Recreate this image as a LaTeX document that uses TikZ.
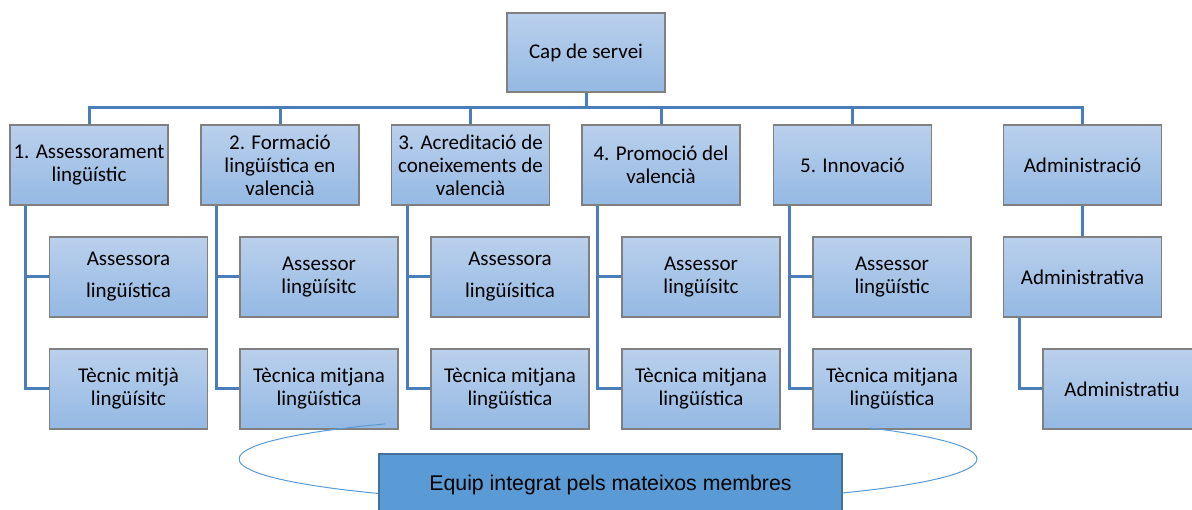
\documentclass[tikz,border=0pt]{standalone}
\usepackage{fontspec}
\setmainfont{Carlito}
\newfontfamily\arialf{Liberation Sans}
\usetikzlibrary{calc}
\definecolor{boxtop}{RGB}{186,208,236}
\definecolor{boxbot}{RGB}{148,185,227}
\definecolor{boxline}{RGB}{128,128,128}
\definecolor{connc}{RGB}{74,126,187}
\definecolor{eqfill}{RGB}{91,155,213}
\definecolor{eqline}{RGB}{65,113,156}
\tikzset{
  orgbox/.style={rectangle, draw=boxline, line width=1.2pt, top color=boxtop, bottom color=boxbot,
    minimum width=158pt, minimum height=80pt, inner sep=0pt, align=center,
    font=\fontsize{21}{23}\selectfont},
  conn/.style={draw=connc, line width=3pt},
  ell/.style={draw=eqfill, line width=1pt},
  eqbox/.style={rectangle, draw=eqline, line width=1.5pt, fill=eqfill, minimum width=463pt,
    minimum height=62pt, inner sep=0pt, font=\arialf\fontsize{21.3}{23}\selectfont}
}
\begin{document}
\begin{tikzpicture}[x=1pt,y=-1pt]
\useasboundingbox (0,0) rectangle (1192,510);
\clip (0,0) rectangle (1192,510);
\coordinate (bus) at (0,108);
% top
\node[orgbox, minimum height=79pt] (cap) at (586,52.5) {Cap de servei};
\node[orgbox] (d1) at (89,165) {1. Assessorament\\ lingüístic};
\node[orgbox] (d2) at (280,165) {2. Formació\\ lingüística en\\ valencià};
\node[orgbox] (d3) at (470.5,165) {3. Acreditació de\\ coneixements de\\ valencià};
\node[orgbox] (d4) at (661,165) {4. Promoció del\\ valencià};
\node[orgbox] (d5) at (852.5,165) {5. Innovació};
\node[orgbox] (adm) at (1082.5,165) {Administració};
% children
\node[orgbox] (c1a) at (128.5,277) {Assessora\\[9pt] lingüística};
\node[orgbox] (c1b) at (128.5,389) {Tècnic mitjà\\ lingüísitc};
\node[orgbox] (c2a) at (319,277) {Assessor\\ lingüísitc};
\node[orgbox] (c2b) at (319,389) {Tècnica mitjana\\ lingüística};
\node[orgbox] (c3a) at (510,277) {Assessora\\[9pt] lingüísitica};
\node[orgbox] (c3b) at (510,389) {Tècnica mitjana\\ lingüística};
\node[orgbox] (c4a) at (701,277) {Assessor\\ lingüísitc};
\node[orgbox] (c4b) at (701,389) {Tècnica mitjana\\ lingüística};
\node[orgbox] (c5a) at (892,277) {Assessor\\ lingüístic};
\node[orgbox] (c5b) at (892,389) {Tècnica mitjana\\ lingüística};
\node[orgbox] (a1) at (1082.5,277) {Administrativa};
\node[orgbox] (a2) at (1122,389) {Administratiu};
% bus connectors
\draw[conn] (cap.south) -- (cap.south |- bus);
\draw[conn] (d1.north) -- (d1.north |- bus) -- (adm.north |- bus) -- (adm.north);
\foreach \n in {d2,d3,d4,d5}{
  \draw[conn] (\n.north) -- (\n.north |- bus);
}
% child connectors
\foreach \p/\a/\b in {d1/c1a/c1b,d2/c2a/c2b,d3/c3a/c3b,d4/c4a/c4b,d5/c5a/c5b}{
  \coordinate (v\p) at ($(\p.south west)+(16.5,0)$);
  \draw[conn] (v\p) |- (\b.west);
  \draw[conn] (v\p |- \a.west) -- (\a.west);
}
\draw[conn] (adm.south) -- (a1.north);
\coordinate (va1) at ($(a1.south west)+(16.5,0)$);
\draw[conn] (va1) |- (a2.west);
% ellipse arc
\coordinate (ec) at (608,459);
\draw[ell] (ec) ++(232.8:369 and 44) arc[start angle=232.8, end angle=-44.8, x radius=369, y radius=44];
\node[eqbox] (eq) at (610.5,485) {Equip integrat pels mateixos membres};
\end{tikzpicture}
\end{document}
